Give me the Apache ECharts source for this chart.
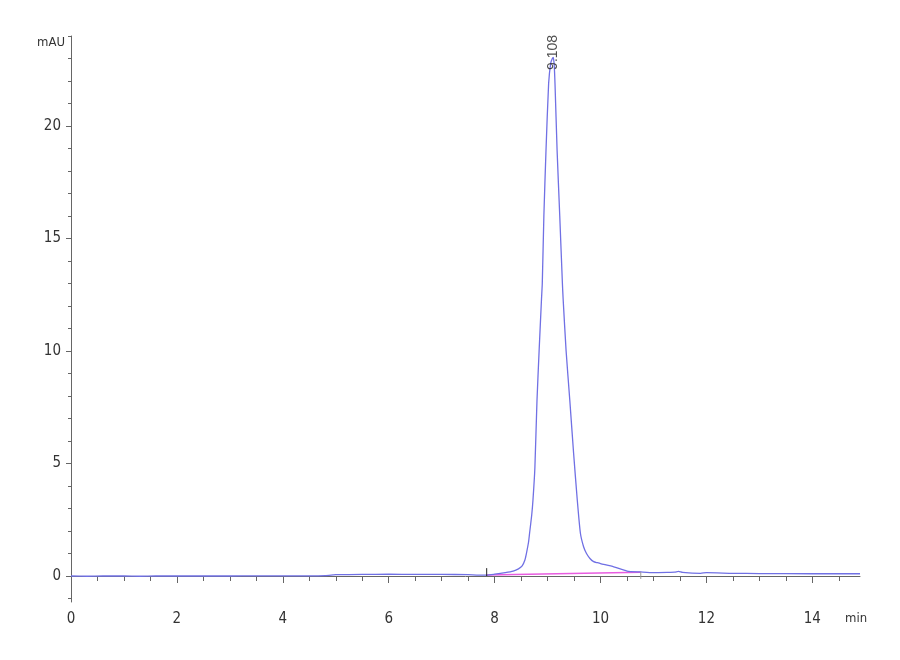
<!DOCTYPE html>
<html>
<head>
<meta charset="utf-8">
<script src="https://cdn.jsdelivr.net/npm/echarts@6/dist/echarts.min.js"></script>
<style>html,body{margin:0;padding:0;background:#fff;}#c{width:900px;height:660px;}</style>
</head>
<body>
<div id="c"></div>
<script>
// Chromatogram trace: [time (min), signal (mAU)]
var trace = [
  [0.0,0.0],[0.3,-0.01],[0.6,0.0],[1.0,0.0],[1.3,-0.01],[1.6,0.0],[2.0,0.0],[2.5,0.0],[3.0,0.0],
  [3.5,0.01],[4.0,0.01],[4.5,0.01],[4.8,0.02],[4.95,0.05],[5.0,0.06],[5.5,0.07],[6.0,0.08],
  [6.5,0.07],[7.0,0.07],[7.5,0.06],[7.7,0.04],[7.85,0.04],[8.0,0.08],[8.2,0.15],[8.35,0.22],
  [8.45,0.32],[8.52,0.45],[8.57,0.7],[8.60,1.0],[8.64,1.5],[8.66,1.9],[8.70,2.7],[8.725,3.4],
  [8.76,4.8],[8.80,7.8],[8.84,10.0],[8.885,12.3],[8.90,13.0],[8.93,16.0],[8.97,18.9],
  [9.02,21.9],[9.06,22.8],[9.09,23.0],[9.108,23.05],[9.125,22.7],[9.14,21.9],[9.18,18.9],[9.23,16.0],
  [9.28,13.0],[9.294,12.3],[9.35,10.0],[9.42,7.8],[9.49,5.5],[9.56,3.4],[9.62,1.9],
  [9.68,1.3],[9.735,1.0],[9.80,0.78],[9.87,0.64],[9.94,0.59],[10.0,0.55],[10.25,0.41],
  [10.5,0.22],[10.76,0.18],[11.0,0.15],[11.26,0.16],[11.4,0.17],[11.47,0.21],[11.55,0.16],
  [11.89,0.12],[12.0,0.15],[12.5,0.12],[13.0,0.11],[14.0,0.1],[14.9,0.1]
];
// Integration baseline (start, end)
var baseline = [[7.85,0.04],[10.76,0.17]];
// Integration event markers
var startMark = [[7.85,0.0],[7.85,0.35]];
var endMark = [[10.76,0.18],[10.76,-0.13]];
// Peak annotation
var peakTime = 9.108, peakHeight = 23.05, peakLabel = '9.108';
// Axis ticks
var xLabels = [0,2,4,6,8,10,12,14];
var xMinor = [];
for (var i = 0; i <= 29; i++) xMinor.push(i * 0.5);
var yLabels = [0,5,10,15,20];
var yMinor = [];
for (var j = -1; j <= 24; j++) yMinor.push(j);

var axisColor = '#666';
var font = '"Liberation Sans Narrow", "DejaVu Sans Condensed", Arial, sans-serif';
var chart = echarts.init(document.getElementById('c'));
chart.setOption({
  animation: false,
  backgroundColor: '#fff',
  grid: {left: 71, right: 40, top: 36, bottom: 58, containLabel: false},
  xAxis: [{
    type: 'value', min: 0, max: 14.9,
    axisLine: {lineStyle: {color: axisColor, width: 1}},
    axisTick: {customValues: xLabels, length: 7, lineStyle: {color: axisColor}},
    axisLabel: {customValues: xLabels, color: '#333', fontSize: 15, fontFamily: font, margin: 10},
    splitLine: {show: false}
  }, {
    type: 'value', min: 0, max: 14.9, position: 'bottom', offset: 0,
    axisLine: {show: false},
    axisTick: {customValues: xMinor, length: 5, lineStyle: {color: axisColor}},
    axisLabel: {show: false},
    splitLine: {show: false}
  }],
  yAxis: [{
    type: 'value', min: -1.155, max: 24,
    axisLine: {show: true, lineStyle: {color: axisColor, width: 1}},
    axisTick: {show: true, customValues: yLabels, length: 5, lineStyle: {color: axisColor}},
    axisLabel: {customValues: yLabels, color: '#333', fontSize: 15, fontFamily: font, margin: 10},
    splitLine: {show: false}
  }, {
    type: 'value', min: -1.155, max: 24, position: 'left', offset: 0,
    axisLine: {show: false},
    axisTick: {show: true, customValues: yMinor, length: 3, lineStyle: {color: axisColor}},
    axisLabel: {show: false},
    splitLine: {show: false}
  }],
  series: [{
    type: 'line', data: baseline, symbol: 'none',
    lineStyle: {color: '#e85ce0', width: 1.5}, z: 2
  }, {
    type: 'line', data: trace, symbol: 'none', smooth: 0.2,
    lineStyle: {color: '#7070e4', width: 1.3}, z: 3
  }, {
    type: 'line', data: startMark, symbol: 'none',
    lineStyle: {color: '#222', width: 1}, z: 4
  }, {
    type: 'line', data: endMark, symbol: 'none',
    lineStyle: {color: '#999', width: 1}, z: 4
  }, {
    type: 'scatter', data: [[peakTime, peakHeight]], symbolSize: 0, z: 5,
    label: {
      show: true, formatter: peakLabel, rotate: 90, position: 'inside',
      offset: [5, 0], color: '#222', fontSize: 14, fontFamily: 'Liberation Sans, Arial, sans-serif'
    }
  }],
  graphic: [{
    type: 'text', left: 37, top: 36,
    style: {text: 'mAU', fill: '#333', font: '13px "Liberation Sans Narrow", "DejaVu Sans Condensed", Arial, sans-serif'}
  }, {
    type: 'text', left: 845, top: 612,
    style: {text: 'min', fill: '#333', font: '13px "Liberation Sans Narrow", "DejaVu Sans Condensed", Arial, sans-serif'}
  }]
});
</script>
</body>
</html>
